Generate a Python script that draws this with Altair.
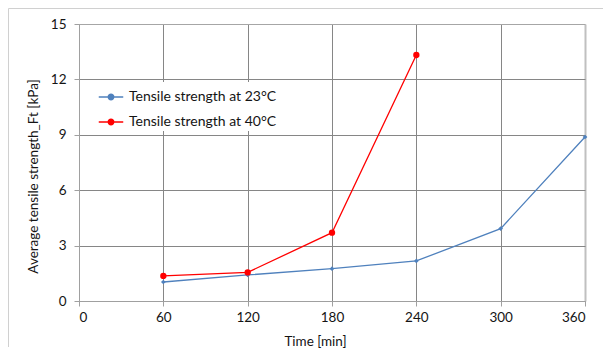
import altair as alt
import pandas as pd

times_23 = [60, 120, 180, 240, 300, 360]
values_23 = [1.03, 1.41, 1.75, 2.17, 3.92, 8.88]
times_40 = [60, 120, 180, 240]
values_40 = [1.36, 1.55, 3.70, 13.32]
series_names = ["Tensile strength at 23°C", "Tensile strength at 40°C"]
series_colors = ["#4F81BD", "#FF0000"]
x_ticks = [0, 60, 120, 180, 240, 300, 360]
y_ticks = [0, 3, 6, 9, 12, 15]

df = pd.DataFrame(
    [{"time": t, "value": v, "series": series_names[0]} for t, v in zip(times_23, values_23)]
    + [{"time": t, "value": v, "series": series_names[1]} for t, v in zip(times_40, values_40)]
)

FONT = "Lato"
TXT = "#141414"
color = alt.Color(
    "series:N",
    scale=alt.Scale(domain=series_names, range=series_colors),
    legend=alt.Legend(
        title=None,
        orient="none",
        legendX=17,
        legendY=58,
        fillColor="white",
        padding=2,
        symbolType="M-1,0H1M-0.22,0A0.22,0.22 0 1,0 0.22,0A0.22,0.22 0 1,0 -0.22,0Z",
        symbolSize=600,
        symbolStrokeWidth=1.5,
        labelFont=FONT,
        labelFontSize=14,
        labelColor=TXT,
        labelOffset=5,
        rowPadding=5,
        labelLimit=300,
    ),
)

x_enc = alt.X(
    "time:Q",
    scale=alt.Scale(domain=[0, 360], nice=False),
    axis=alt.Axis(
        values=x_ticks,
        title="Time [min]",
        titleX=236,
        titleY=40,
        titleBaseline="middle",
        titleFont=FONT,
        titleFontSize=13.5,
        titleFontWeight="normal",
        titleColor=TXT,
        labelFont=FONT,
        labelFontSize=13.5,
        labelColor=TXT,
        labelPadding=4,
        tickSize=5,
        tickColor="#a0a0a0",
        domainColor="#a0a0a0",
        grid=True,
        gridColor={"condition": {"test": "datum.value === 360", "value": "#c0c0c0"}, "value": "#868686"},
        gridWidth={"condition": {"test": "datum.value === 360", "value": 2}, "value": 1},
    ),
)
y_enc = alt.Y(
    "value:Q",
    scale=alt.Scale(domain=[0, 15], nice=False),
    axis=alt.Axis(
        values=y_ticks,
        title="Average tensile strength_Ft [kPa]",
        titleX=-46,
        titleY=152,
        titleBaseline="middle",
        titleFont=FONT,
        titleFontSize=13.5,
        titleFontWeight="normal",
        titleColor=TXT,
        labelFont=FONT,
        labelFontSize=13.5,
        labelColor=TXT,
        labelPadding=8,
        tickSize=5,
        tickColor="#a0a0a0",
        domainColor="#a0a0a0",
        grid=True,
        gridColor={"condition": {"test": "datum.value === 15", "value": "#a6a6a6"}, "value": "#868686"},
    ),
)

lines = alt.Chart(df).mark_line(strokeWidth=1.3).encode(x=x_enc, y=y_enc, color=color)
pts_23 = alt.Chart(df).transform_filter(alt.datum.series == series_names[0]).mark_point(
    shape="diamond", filled=True, size=22, opacity=1
).encode(x="time:Q", y="value:Q", color=alt.Color("series:N", scale=alt.Scale(domain=series_names, range=series_colors), legend=None))
pts_40 = alt.Chart(df).transform_filter(alt.datum.series == series_names[1]).mark_point(
    shape="circle", filled=True, size=40, opacity=1
).encode(x="time:Q", y="value:Q", color=alt.Color("series:N", scale=alt.Scale(domain=series_names, range=series_colors), legend=None))

border_df = pd.DataFrame({"k": [0]})
border_top = alt.Chart(border_df).mark_rule(color="#d0d0d0", strokeWidth=1).encode(
    x=alt.value(-70.5), x2=alt.value(524), y=alt.value(-15.5)
)
border_left = alt.Chart(border_df).mark_rule(color="#d0d0d0", strokeWidth=1).encode(
    x=alt.value(-70.5), y=alt.value(-15.5), y2=alt.value(323)
)

chart = alt.layer(border_top, border_left, lines, pts_23, pts_40).properties(
    width=506,
    height=277,
    autosize=alt.AutoSizeParams(type="none"),
    padding={"left": 71, "top": 16, "right": 19, "bottom": 47},
).configure_view(stroke=None).configure(background="white")

chart.save("out.html", embed_options={"renderer": "svg", "actions": False})
